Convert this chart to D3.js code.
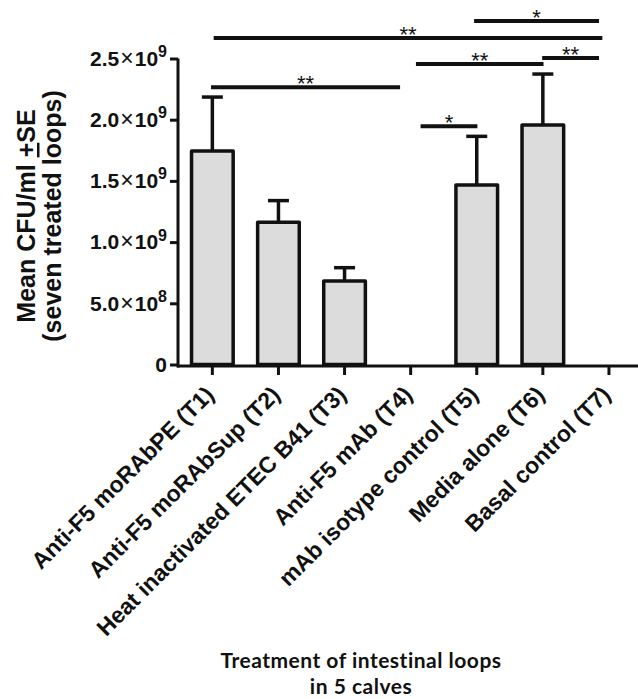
<!DOCTYPE html>
<html>
<head>
<meta charset="utf-8">
<script src="https://cdn.jsdelivr.net/npm/d3@7"></script>
<style>
  body { margin: 0; background: #fff; }
  svg { display: block; }
</style>
</head>
<body>
<svg id="chart"></svg>
<script>
// treatments on the x axis
const categories = [
  "Anti-F5 moRAbPE (T1)",
  "Anti-F5 moRAbSup (T2)",
  "Heat inactivated ETEC B41 (T3)",
  "Anti-F5 mAb (T4)",
  "mAb isotype control (T5)",
  "Media alone (T6)",
  "Basal control (T7)"
];
// mean CFU/ml and standard error
const means = [1.745e9, 1.163e9, 0.683e9, 0, 1.466e9, 1.956e9, 0];
const errors = [0.44e9, 0.176e9, 0.108e9, 0, 0.398e9, 0.417e9, 0];

// y ticks
const yTicks = [0, 5e8, 1e9, 1.5e9, 2e9, 2.5e9];
const yTickMantissa = ["0", "5.0", "1.0", "1.5", "2.0", "2.5"];
const yTickExponent = [null, "8", "9", "9", "9", "9"];

// significance brackets (from/to are category positions, level in CFU/ml)
const sigFrom = [-0.02, 3.15, 3.08, 4.99, 0.02, 3.96];
const sigTo = [2.84, 4.01, 5.01, 5.85, 5.90, 5.85];
const sigLevel = [2.265e9, 1.946e9, 2.455e9, 2.504e9, 2.667e9, 2.806e9];
const sigLabel = ["**", "*", "**", "**", "**", "*"];

const width = 638, height = 699;
const font = "Arial, 'Liberation Sans', sans-serif";
const svg = d3.select("#chart").attr("width", width).attr("height", height);

const x = d3.scaleBand().domain(categories).range([179.3, 642]).padding(0);
const y = d3.scaleLinear().domain([0, 2.5e9]).range([364.5, 58.5]);

const pos = i => x.range()[0] + (i + 0.5) * x.step();
const barW = x.bandwidth() * 0.63;
const capW = 21;

// bars
svg.append("g").selectAll("rect")
  .data(means)
  .join("rect")
  .attr("x", (d, i) => x(categories[i]) + (x.bandwidth() - barW) / 2)
  .attr("y", d => y(d))
  .attr("width", barW)
  .attr("height", d => y(0) - y(d))
  .attr("fill", d => d > 0 ? "#dcdcdc" : "none")
  .attr("stroke", d => d > 0 ? "#111" : "none")
  .attr("stroke-width", 3.5)
  .attr("stroke-linejoin", "round");

// error bars
const eb = svg.append("g").attr("stroke", "#111").attr("stroke-width", 3.5);
means.forEach(function(m, i) {
  if (errors[i] <= 0) return;
  const cx = x(categories[i]) + x.bandwidth() / 2;
  eb.append("line").attr("x1", cx).attr("x2", cx)
    .attr("y1", y(m)).attr("y2", y(m + errors[i]));
  eb.append("line").attr("x1", cx - capW / 2).attr("x2", cx + capW / 2)
    .attr("y1", y(m + errors[i])).attr("y2", y(m + errors[i]));
});

// y axis
const yAxis = svg.append("g")
  .attr("transform", "translate(178,0)")
  .call(d3.axisLeft(y).tickValues(yTicks).tickSize(8).tickSizeOuter(0).tickPadding(3));
yAxis.select(".domain").attr("stroke", "#111").attr("stroke-width", 3)
  .attr("d", "M0," + y(2.5e9) + "V" + (y(0) + 3));
yAxis.selectAll(".tick line").attr("stroke", "#111").attr("stroke-width", 3);
yAxis.selectAll(".tick text").each(function(d) {
  const i = yTicks.indexOf(d);
  const t = d3.select(this).text(null)
    .attr("font-family", font)
    .attr("font-size", "21px").attr("font-weight", "bold").attr("fill", "#111");
  t.append("tspan").text(yTickMantissa[i]);
  if (yTickExponent[i] != null) {
    t.append("tspan").attr("font-weight", "normal").attr("font-size", "23px")
      .attr("dx", "1").text("\u00d7");
    t.append("tspan").attr("dx", "1").text("10");
    t.append("tspan").attr("dy", "-0.55em").attr("font-size", "16px").text(yTickExponent[i]);
  }
});

// x axis
const xAxis = svg.append("g")
  .attr("transform", "translate(0," + (y(0) + 1.5) + ")")
  .call(d3.axisBottom(x).tickSize(9).tickSizeOuter(0));
xAxis.select(".domain").attr("stroke", "#111").attr("stroke-width", 3)
  .attr("d", "M177,0H" + width);
xAxis.selectAll(".tick line").attr("stroke", "#111").attr("stroke-width", 3);
xAxis.selectAll(".tick text")
  .attr("x", 0).attr("y", 0).attr("dy", 0)
  .attr("text-anchor", "end")
  .attr("transform", "translate(3,30) rotate(-45)")
  .attr("font-family", font)
  .attr("font-size", "23px").attr("font-weight", "bold").attr("fill", "#111");

// significance lines
const sg = svg.append("g");
sigLabel.forEach(function(lab, i) {
  const x1 = pos(sigFrom[i]), x2 = pos(sigTo[i]), yy = y(sigLevel[i]);
  sg.append("line").attr("x1", x1).attr("x2", x2).attr("y1", yy).attr("y2", yy)
    .attr("stroke", "#111").attr("stroke-width", 4);
  sg.append("text").attr("x", (x1 + x2) / 2).attr("y", yy + 4)
    .attr("text-anchor", "middle")
    .attr("font-family", font)
    .attr("font-size", "22px").attr("fill", "#111")
    .text(lab);
});

// y title
const yt = svg.append("text")
  .attr("transform", "translate(0,216) rotate(-90)")
  .attr("text-anchor", "middle")
  .attr("font-family", font)
  .attr("font-size", "25px").attr("font-weight", "bold").attr("fill", "#111");
const l1 = yt.append("tspan").attr("x", 0).attr("y", 35);
l1.append("tspan").text("Mean CFU/ml ");
l1.append("tspan").style("text-decoration", "underline").text("+");
l1.append("tspan").text("SE");
yt.append("tspan").attr("x", 0).attr("y", 61).text("(seven treated loops)");

// x title
const xt = svg.append("text")
  .attr("text-anchor", "middle")
  .attr("font-family", "Lato, 'Open Sans', sans-serif")
  .attr("font-size", "21px").attr("font-weight", "bold")
  .attr("letter-spacing", "0.5px").attr("fill", "#111");
xt.append("tspan").attr("x", 361).attr("y", 668).text("Treatment of intestinal loops");
xt.append("tspan").attr("x", 361).attr("y", 694).text("in 5 calves");
</script>
</body>
</html>
